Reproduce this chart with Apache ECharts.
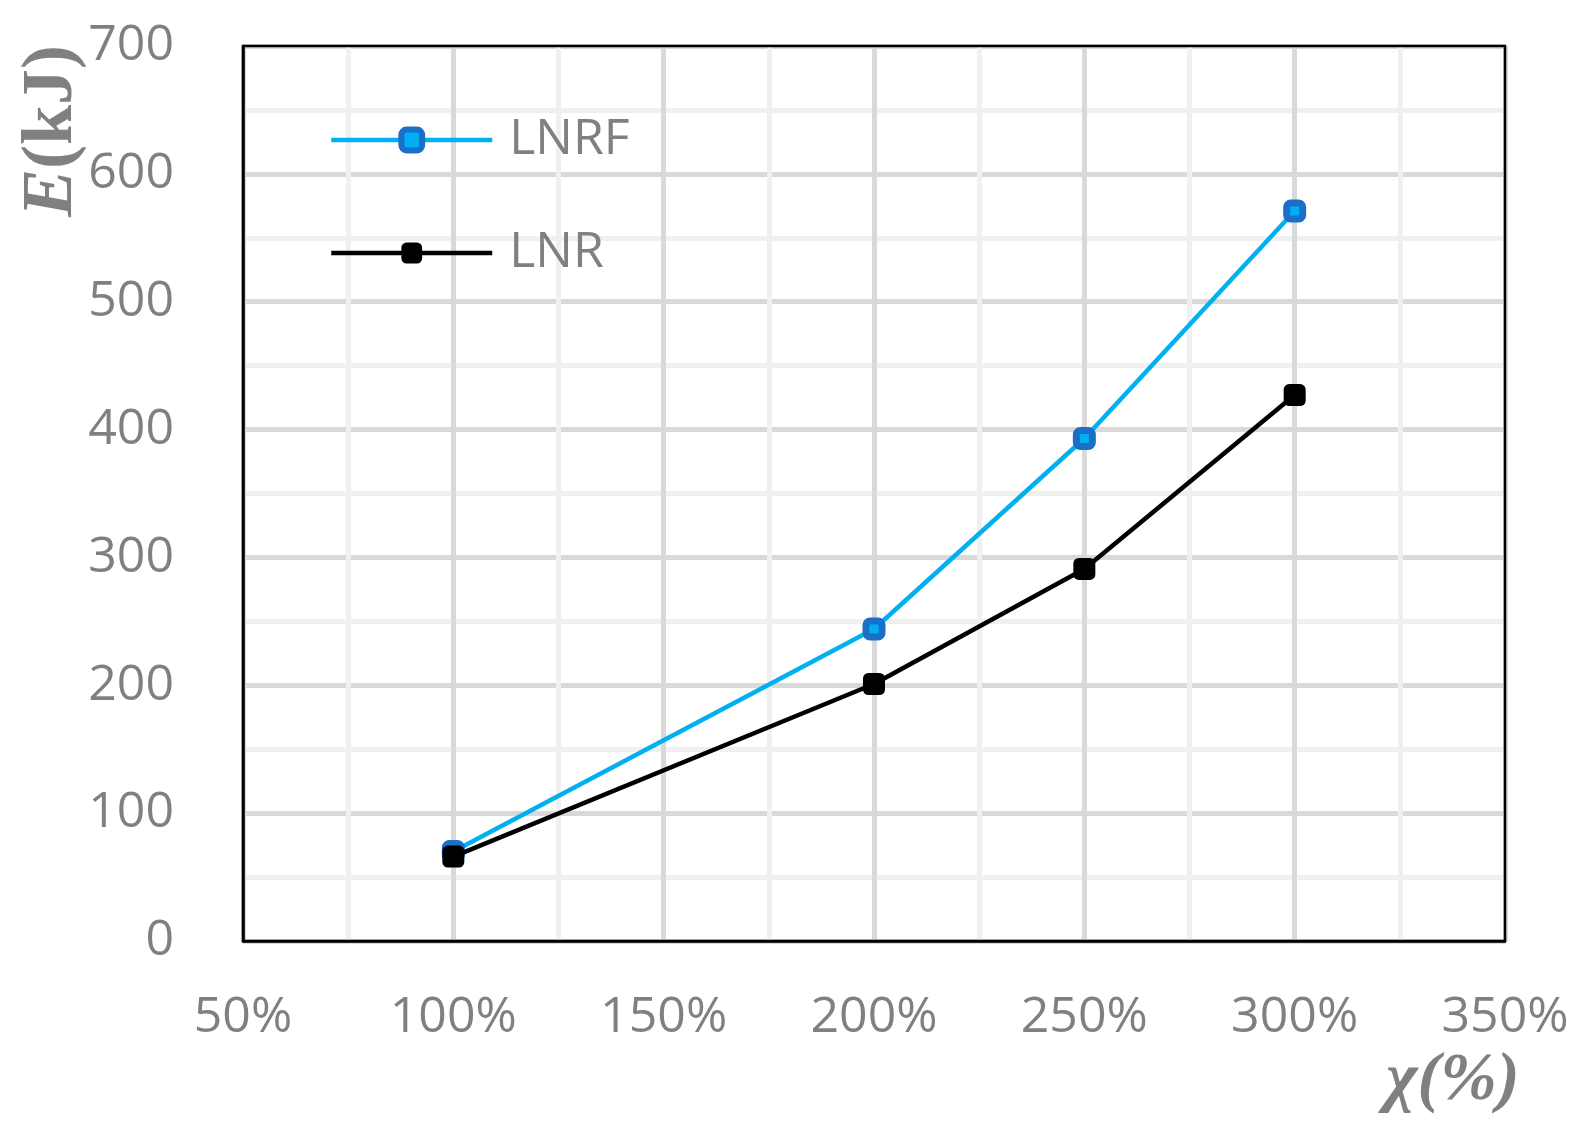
<!DOCTYPE html>
<html><head><meta charset="utf-8">
<script src="https://cdn.jsdelivr.net/npm/echarts@6/dist/echarts.min.js"></script>
<style>html,body{margin:0;padding:0;background:#fff}#c{width:1584px;height:1137px}</style>
</head><body><div id="c"></div>
<script>
const xValues = [100, 200, 250, 300];
const lnrf = [70, 244, 393, 571];
const lnr = [66, 201, 291, 427];
const seriesNames = ['LNRF', 'LNR'];

const chart = echarts.init(document.getElementById('c'));
const labelFont = {color: '#808080', fontSize: 50, fontFamily: 'Open Sans'};
chart.setOption({
  animation: false,
  grid: {left: 243, right: 79, top: 46, bottom: 196, show: true, borderColor: '#000', borderWidth: 2.5, z: 3},
  legend: {
    orient: 'vertical', left: 324, top: 110, itemWidth: 161, itemHeight: 26, itemGap: 63,
    textStyle: Object.assign({lineHeight: 48, padding: [0, 0, 0, 12]}, labelFont),
    lineStyle: {width: 4.5},
    data: [{name: seriesNames[0], itemStyle: {borderWidth: 6, borderColor: '#1a6fc9'}}, {name: seriesNames[1]}]
  },
  xAxis: {
    type: 'value', min: 50, max: 350, interval: 50,
    axisLine: {show: true, onZero: false, lineStyle: {color: '#000', width: 2.5}},
    axisTick: {show: false},
    axisLabel: Object.assign({margin: 52, formatter: '{value}%'}, labelFont),
    splitLine: {show: true, lineStyle: {color: '#d9d9d9', width: 5}},
    minorTick: {show: false, splitNumber: 2},
    minorSplitLine: {show: true, lineStyle: {color: '#f0f0f0', width: 5}}
  },
  yAxis: {
    type: 'value', min: 0, max: 700, interval: 100,
    axisLine: {show: true, lineStyle: {color: '#000', width: 2.5}},
    axisTick: {show: false},
    axisLabel: Object.assign({margin: 69}, labelFont),
    splitLine: {show: true, lineStyle: {color: '#d9d9d9', width: 5}},
    minorTick: {show: false, splitNumber: 2},
    minorSplitLine: {show: true, lineStyle: {color: '#f0f0f0', width: 5}}
  },
  graphic: [
    {type: 'text', left: 16, top: 45, rotation: Math.PI / 2, originX: 0, originY: 0,
     style: {text: '{i|E}{b|(kJ)}', rich: {
       i: {fontFamily: 'Liberation Serif', fontStyle: 'italic', fontWeight: 'bold', fontSize: 72, fill: '#808080'},
       b: {fontFamily: 'Liberation Serif', fontWeight: 'bold', fontSize: 72, fill: '#808080'}}}},
    {type: 'text', left: 1386, top: 1047,
     style: {text: 'χ(%)', font: 'italic bold 68px "Liberation Serif"', fill: '#808080'}}
  ],
  series: [
    {name: 'LNRF', type: 'line', data: xValues.map((x, i) => [x, lnrf[i]]),
     symbol: 'roundRect', symbolSize: 16, z: 5,
     lineStyle: {color: '#00b0f0', width: 4.5},
     itemStyle: {color: '#00b0f0', borderColor: '#1a6fc9', borderWidth: 7}},
    {name: 'LNR', type: 'line', data: xValues.map((x, i) => [x, lnr[i]]),
     symbol: 'roundRect', symbolSize: 22, z: 6,
     lineStyle: {color: '#000', width: 4.5},
     itemStyle: {color: '#000'}}
  ]
});
</script></body></html>
